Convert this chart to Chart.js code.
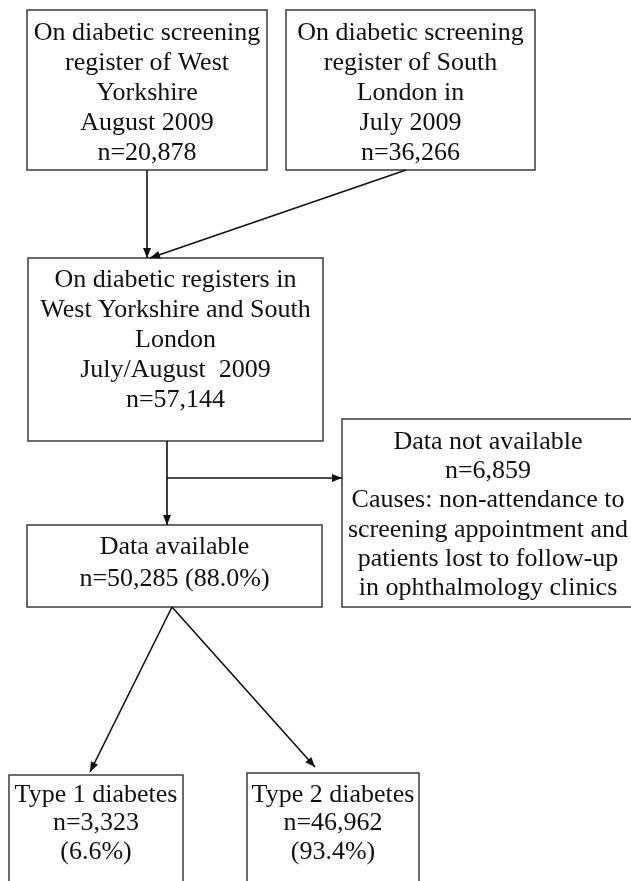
<!DOCTYPE html>
<html>
<head>
<meta charset="utf-8">
<script src="https://cdn.jsdelivr.net/npm/chart.js@4.4.1/dist/chart.umd.min.js"></script>
<style>
html, body { margin: 0; padding: 0; background: #fff; }
#wrap { position: relative; width: 631px; height: 881px; }
</style>
</head>
<body>
<div id="wrap"><canvas id="flowChart"></canvas></div>
<script>
// patients at each step of the flow
const counts = [20878, 36266, 57144, 6859, 50285, 3323, 46962];
const percents = [null, null, null, null, 88.0, 6.6, 93.4];
const headings = [
    ['On diabetic screening', 'register of West', 'Yorkshire', 'August 2009'],
    ['On diabetic screening', 'register of South', 'London in', 'July 2009'],
    ['On diabetic registers in', 'West Yorkshire and South', 'London', 'July/August  2009'],
    ['Data not available'],
    ['Data available'],
    ['Type 1 diabetes'],
    ['Type 2 diabetes']
];
const notes = [[], [], [], ['Causes: non-attendance to', 'screening appointment and',
    'patients lost to follow-up', 'in ophthalmology clinics'], [], [], []];

// layout of the boxes, in page units (x 0..631, y 0..881 top-down)
const boxFrames = [
    { x0: 27, x1: 267, y0: 10, y1: 170, lead: 23, gap: 30 },
    { x0: 286, x1: 535, y0: 10, y1: 170, lead: 23, gap: 30 },
    { x0: 28, x1: 323, y0: 258, y1: 441, lead: 22, gap: 30 },
    { x0: 342, x1: 634, y0: 419, y1: 607, lead: 23, gap: 29.3 },
    { x0: 27, x1: 322, y0: 525, y1: 607, lead: 22, gap: 32 },
    { x0: 9, x1: 183, y0: 775, y1: 890, lead: 20, gap: 28.5, pctOwnLine: true },
    { x0: 247, x1: 419, y0: 773, y1: 890, lead: 22, gap: 28.5, pctOwnLine: true }
];

// connectors: start and end point of each arrow
const links = [
    [[147, 170], [147, 258]],
    [[406, 170], [150, 258]],
    [[167, 441], [167, 525]],
    [[167, 478], [342, 478]],
    [[172, 607], [90, 772]],
    [[172, 607], [315, 767]]
];

function boxLines(i) {
    const n = 'n=' + counts[i].toLocaleString('en-US');
    const lines = headings[i].slice();
    if (percents[i] === null) {
        lines.push(n);
    } else {
        const pct = '(' + percents[i].toFixed(1) + '%)';
        if (boxFrames[i].pctOwnLine) {
            lines.push(n, pct);
        } else {
            lines.push(n + ' ' + pct);
        }
    }
    return lines.concat(notes[i]);
}

// boxes and their text, placed through the chart scales
const boxPlugin = {
    id: 'flowBoxes',
    beforeDatasetsDraw(chart) {
        const ctx = chart.ctx;
        const sx = chart.scales.x, sy = chart.scales.y;
        ctx.save();
        boxFrames.forEach(function(f, i) {
            const left = sx.getPixelForValue(f.x0), right = sx.getPixelForValue(f.x1);
            const top = sy.getPixelForValue(f.y0), bottom = sy.getPixelForValue(f.y1);
            ctx.fillStyle = '#fff';
            ctx.fillRect(left, top, right - left, bottom - top);
            ctx.strokeStyle = '#3a3a3a';
            ctx.lineWidth = 1.5;
            ctx.strokeRect(left, top, right - left, bottom - top);

            ctx.fillStyle = '#111';
            ctx.font = '26px "Liberation Serif", "Times New Roman", serif';
            ctx.textAlign = 'center';
            ctx.textBaseline = 'middle';
            const cx = sx.getPixelForValue((f.x0 + f.x1) / 2);
            boxLines(i).forEach(function(line, k) {
                ctx.fillText(line, cx, sy.getPixelForValue(f.y0 + f.lead + k * f.gap));
            });
        });
        ctx.restore();
    }
};

// arrow heads at the end of each connector
const arrowPlugin = {
    id: 'arrowHeads',
    afterDatasetsDraw(chart) {
        const ctx = chart.ctx;
        ctx.save();
        ctx.fillStyle = '#111';
        chart.data.datasets.forEach(function(ds, i) {
            const pts = chart.getDatasetMeta(i).data;
            const a = pts[pts.length - 2], b = pts[pts.length - 1];
            const ang = Math.atan2(b.y - a.y, b.x - a.x);
            const len = 10, half = 4;
            ctx.beginPath();
            ctx.moveTo(b.x, b.y);
            ctx.lineTo(b.x - len * Math.cos(ang) + half * Math.sin(ang), b.y - len * Math.sin(ang) - half * Math.cos(ang));
            ctx.lineTo(b.x - len * Math.cos(ang) - half * Math.sin(ang), b.y - len * Math.sin(ang) + half * Math.cos(ang));
            ctx.closePath();
            ctx.fill();
        });
        ctx.restore();
    }
};

const flowCtx = document.getElementById('flowChart').getContext('2d');
const flowChart = new Chart(flowCtx, {
    type: 'scatter',
    data: {
        datasets: links.map(function(l) {
            return {
                data: l.map(function(p) { return { x: p[0], y: p[1] }; }),
                showLine: true,
                borderColor: '#111',
                borderWidth: 1.6,
                pointRadius: 0,
                pointHoverRadius: 0,
                clip: false
            };
        })
    },
    options: {
        responsive: true,
        maintainAspectRatio: false,
        animation: false,
        layout: { padding: 0 },
        plugins: {
            legend: { display: false },
            tooltip: { enabled: false }
        },
        scales: {
            x: { type: 'linear', min: 0, max: 631, display: false },
            y: { type: 'linear', min: 0, max: 881, reverse: true, display: false }
        }
    },
    plugins: [boxPlugin, arrowPlugin]
});
</script>
</body>
</html>
